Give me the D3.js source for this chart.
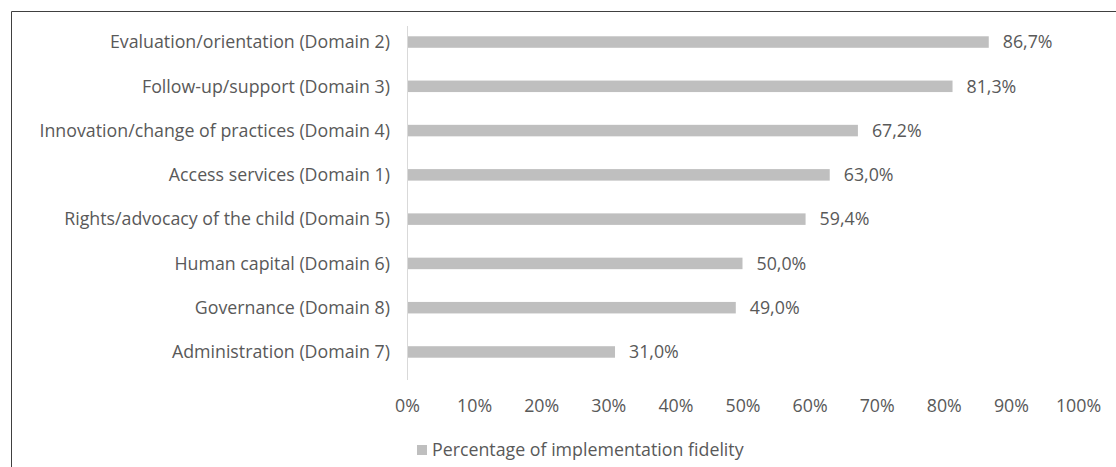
<!DOCTYPE html>
<html>
<head>
<meta charset="utf-8">
<script src="https://cdn.jsdelivr.net/npm/d3@7"></script>
<style>
  html, body { margin: 0; padding: 0; background: #fff; }
  svg { display: block; }
  text { font-family: "Open Sans", sans-serif; fill: #595959; }
</style>
</head>
<body>
<svg id="chart" width="1116" height="467"></svg>
<script>
const categories = [
  "Evaluation/orientation (Domain 2)",
  "Follow-up/support (Domain 3)",
  "Innovation/change of practices (Domain 4)",
  "Access services (Domain 1)",
  "Rights/advocacy of the child (Domain 5)",
  "Human capital (Domain 6)",
  "Governance (Domain 8)",
  "Administration (Domain 7)"
];
const values = [86.7, 81.3, 67.2, 63.0, 59.4, 50.0, 49.0, 31.0];
const valueLabels = ["86,7%", "81,3%", "67,2%", "63,0%", "59,4%", "50,0%", "49,0%", "31,0%"];
const xTicks = [0, 10, 20, 30, 40, 50, 60, 70, 80, 90, 100];
const seriesName = "Percentage of implementation fidelity";

(function () {
const svg = d3.select("#chart");
const fs = 17.8;

// frame
svg.append("path")
  .attr("d", "M11.5,467 L11.5,11.5 L1116,11.5")
  .attr("fill", "none").attr("stroke", "#404040").attr("stroke-width", 1);

const pLeft = 407, pRight = 1078, axTop = 26, axBottom = 380;
const x = d3.scaleLinear().domain([0, 100]).range([pLeft, pRight]);
const y = d3.scaleBand().domain(categories).range([19.9, 374.1]).paddingInner(0.74).paddingOuter(0.37);

// bars
svg.append("g").selectAll("rect").data(values).join("rect")
  .attr("x", x(0) + 0.5)
  .attr("y", (d, i) => y(categories[i]))
  .attr("width", d => x(d) - x(0) - 0.5)
  .attr("height", y.bandwidth())
  .attr("fill", "#bfbfbf");

// y axis line
svg.append("line")
  .attr("x1", pLeft + 0.5).attr("x2", pLeft + 0.5)
  .attr("y1", axTop).attr("y2", axBottom)
  .attr("stroke", "#d9d9d9").attr("stroke-width", 1);

// category labels
svg.append("g").selectAll("text").data(categories).join("text")
  .attr("x", pLeft - 17)
  .attr("y", d => y(d) + y.bandwidth() / 2)
  .attr("dy", "0.35em")
  .attr("text-anchor", "end")
  .attr("font-size", fs)
  .text(d => d);

// value labels
svg.append("g").selectAll("text").data(values).join("text")
  .attr("x", d => x(d) + 14)
  .attr("y", (d, i) => y(categories[i]) + y.bandwidth() / 2)
  .attr("dy", "0.35em")
  .attr("font-size", fs)
  .text((d, i) => valueLabels[i]);

// x tick labels
const xAxis = d3.axisBottom(x).tickValues(xTicks).tickFormat(d => d + "%").tickSize(0).tickPadding(0);
const gx = svg.append("g").attr("transform", `translate(0,${axBottom + 26})`).call(xAxis);
gx.select(".domain").remove();
gx.selectAll("text").attr("font-size", fs).attr("font-family", "Open Sans, sans-serif").attr("fill", "#595959").attr("dy", "0.35em");

// legend
const lg = svg.append("g").attr("transform", "translate(417,445)");
lg.append("rect").attr("width", 10).attr("height", 10).attr("fill", "#bfbfbf");
lg.append("text").attr("x", 15).attr("y", 5).attr("dy", "0.35em").attr("font-size", fs).text(seriesName);
})();
</script>
</body>
</html>
